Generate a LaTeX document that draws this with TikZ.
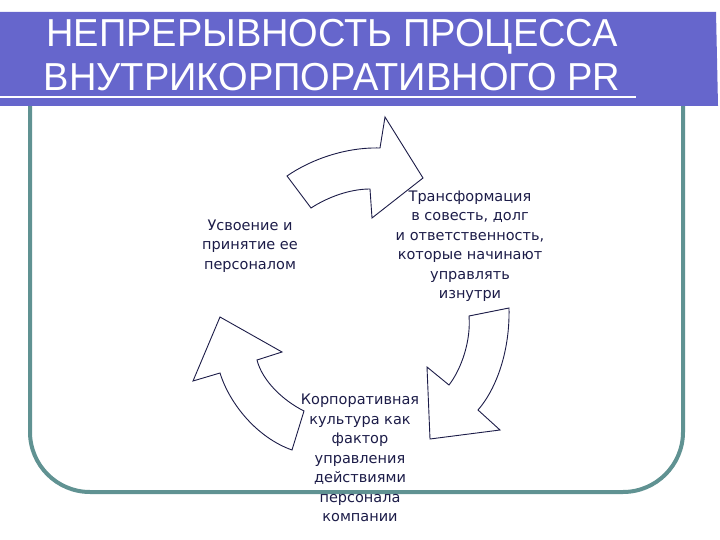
\documentclass[tikz,border=0pt]{standalone}
\usepackage{fontspec}
\setmainfont{DejaVu Sans}
\newfontfamily\titlefont[FakeStretch=0.975]{Liberation Sans}
\definecolor{barblue}{RGB}{102,102,204}
\definecolor{frameteal}{RGB}{96,146,146}
\definecolor{inkblue}{RGB}{28,28,72}

\begin{document}
\begin{tikzpicture}[x=1bp,y=-1bp,
  arrowshape/.style={draw=inkblue,line width=0.9bp,line join=miter,fill=white},
  steptext/.style={text=inkblue,align=center,inner sep=0pt,
    font=\fontsize{14.5bp}{19.5bp}\selectfont},
  titletext/.style={text=white,anchor=base,inner sep=0pt,
    font=\titlefont\fontsize{39bp}{44bp}\selectfont}]

\useasboundingbox (0,0) rectangle (720,540);

% 外框
\draw[frameteal,line width=4bp,rounded corners=60bp] (30,100) -- (30,492) -- (683,492) -- (683,100);

% 标题栏
\fill[barblue] (0,12) -- (716,12) -- (718,106) -- (0,106) -- cycle;
\draw[white,line width=2.5bp] (0,97) -- (636,97);
\node[titletext] (title1) at (332,47) {НЕПРЕРЫВНОСТЬ ПРОЦЕССА};
\node[titletext] (title2) at (332,91) {ВНУТРИКОРПОРАТИВНОГО PR};

% 三个弯箭头（循环）
\draw[arrowshape] (423,178) -- (385,117) -- (380,148)
  .. controls (345,147) and (310,160) .. (287,176) -- (311,208)
  .. controls (328,197) and (350,189) .. (370,189) -- (372,218) -- cycle;   % 上
\draw[arrowshape] (509,308) -- (469,316)
  .. controls (471,340) and (462,368) .. (449,385) -- (427,367) -- (430,439)
  -- (500,430) -- (478,410) .. controls (497,388) and (510,350) .. (509,308) -- cycle;   % 右
\draw[arrowshape] (220,317) -- (282,352) -- (257,360)
  .. controls (262,380) and (282,400) .. (304,411) -- (292,450)
  .. controls (258,438) and (230,405) .. (220,373) -- (193,381) -- cycle;   % 左

% 文字
\node[steptext] (absorb) at (250,246) {Усвоение и\\принятие ее\\персоналом};
\node[steptext] (transform) at (470,246) {Трансформация\\в совесть, долг\\и ответственность,\\которые начинают\\управлять\\изнутри};
\node[steptext] (culture) at (360,458) {Корпоративная\\культура как\\фактор\\управления\\действиями\\персонала\\компании};

\end{tikzpicture}
\end{document}
